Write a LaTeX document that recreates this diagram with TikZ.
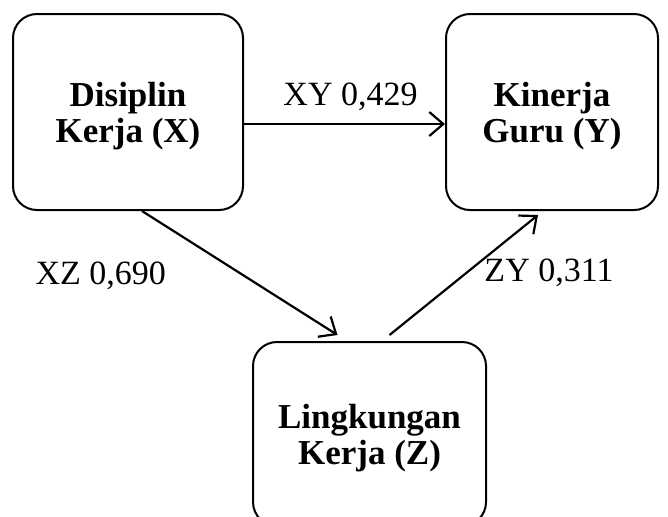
\documentclass[tikz,border=0pt]{standalone}
\usepackage{fontspec}
\setmainfont{Liberation Serif}
\usepackage{tikz}
\usetikzlibrary{positioning,arrows.meta}

\begin{document}
\begin{tikzpicture}[x=0.5pt,y=-0.5pt,
    box/.style={draw, line width=1pt, rounded corners=12pt, align=center,
      text depth=0pt, font=\fontsize{17.5}{18}\selectfont\bfseries},
    lbl/.style={font=\fontsize{17}{19}\selectfont}]
        \useasboundingbox (0,0) rectangle (668,516);
        \node[box, minimum width=115pt, minimum height=98pt]  (X) at (128,112)   {Disiplin\\Kerja (X)};
        \node[box, minimum width=106pt, minimum height=98pt]  (Y) at (552,112)   {Kinerja\\Guru (Y)};
        \node[box, minimum width=116.5pt, minimum height=92pt] (Z) at (369.5,434) {Lingkungan\\Kerja (Z)};
        \path[-{Straight Barb[length=7pt,width=12pt]}, line width=1.1pt]
        ([yshift=-6pt]X.east) edge node[lbl, above=3pt, pos=0.53] {XY 0,429} ([yshift=-6pt]Y.west)
        ([xshift=7pt]X.south) edge node[lbl, left=35pt, pos=0.52] {XZ 0,690} ([xshift=-16pt,yshift=3pt]Z.north)
        ([xshift=10pt,yshift=3pt]Z.north) edge node[lbl, right=5pt, pos=0.52] {ZY 0,311} ([xshift=-7pt,yshift=-2pt]Y.south);
      \end{tikzpicture}
\end{document}
